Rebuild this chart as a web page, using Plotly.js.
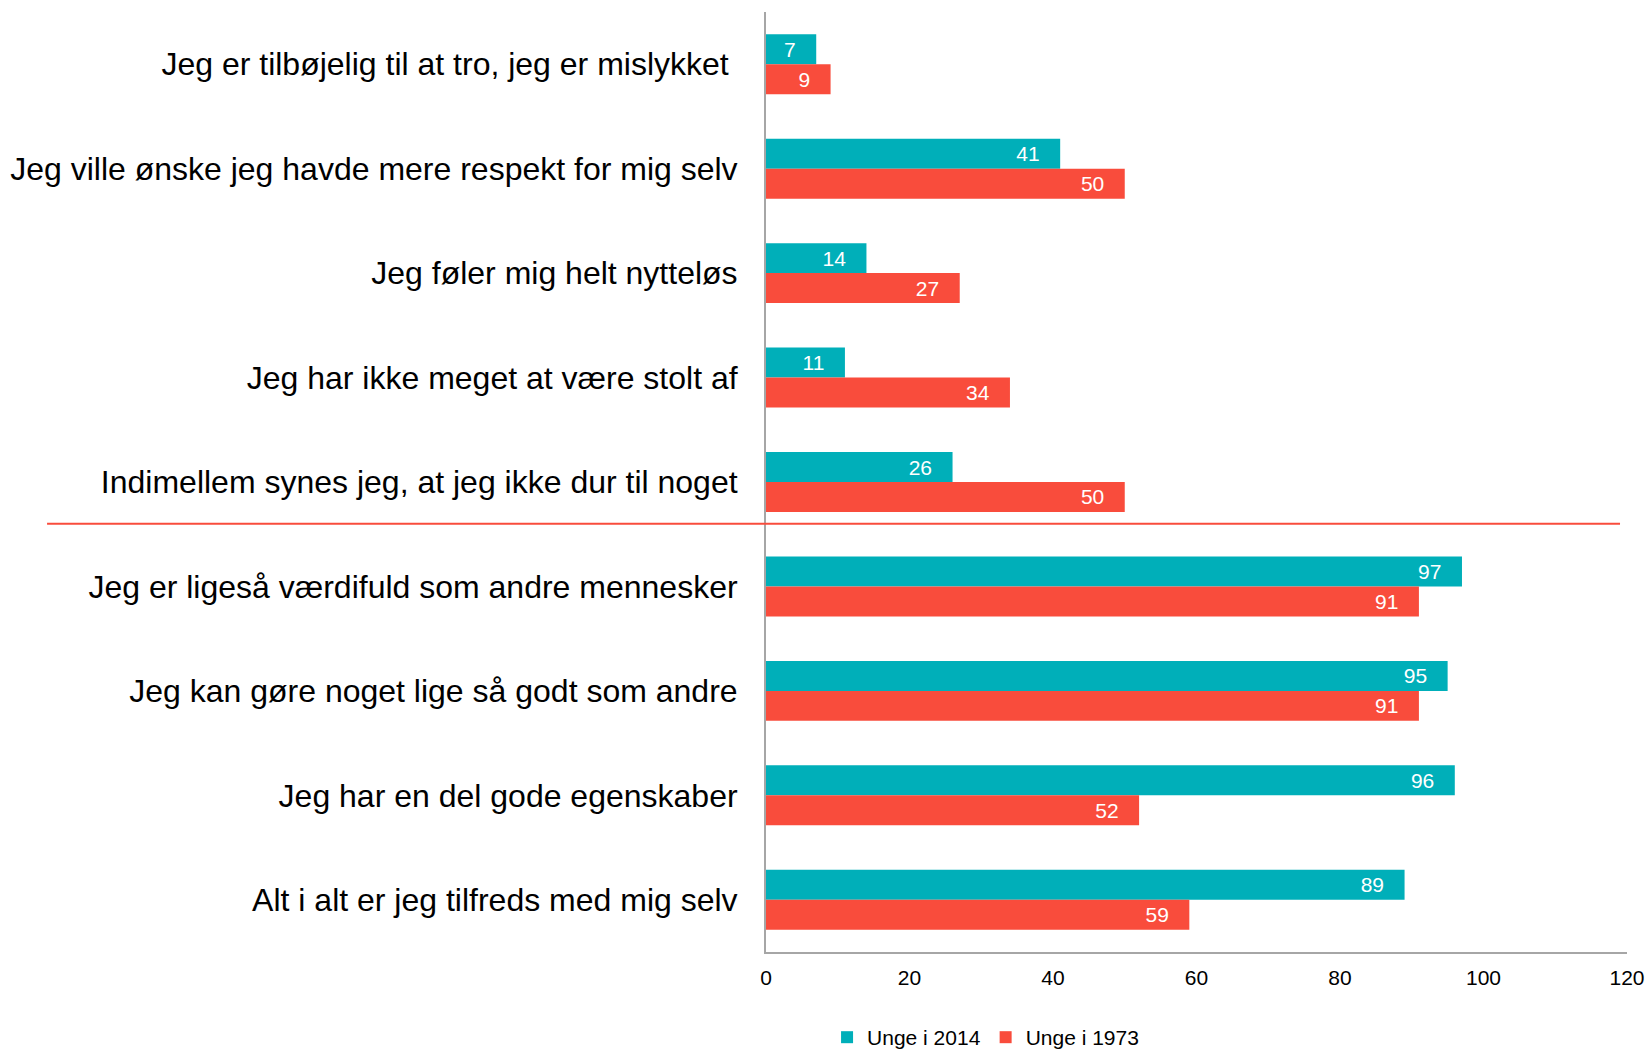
<!DOCTYPE html>
<html>
<head>
<meta charset="utf-8">
<script src="https://cdn.plot.ly/plotly-3.0.1.min.js"></script>
<style>html,body{margin:0;padding:0;background:#fff;}#chart{width:1648px;height:1049px;}</style>
</head>
<body>
<div id="chart"></div>
<script>
const categories = [
  "Jeg er tilbøjelig til at tro, jeg er mislykket\u00a0",
  "Jeg ville ønske jeg havde mere respekt for mig selv",
  "Jeg føler mig helt nytteløs",
  "Jeg har ikke meget at være stolt af",
  "Indimellem synes jeg, at jeg ikke dur til noget",
  "Jeg er ligeså værdifuld som andre mennesker",
  "Jeg kan gøre noget lige så godt som andre",
  "Jeg har en del gode egenskaber",
  "Alt i alt er jeg tilfreds med mig selv"
];
const unge2014 = [7, 41, 14, 11, 26, 97, 95, 96, 89];
const unge1973 = [9, 50, 27, 34, 50, 91, 91, 52, 59];
const seriesNames = ["Unge i 2014", "Unge i 1973"];
const xTicks = [0, 20, 40, 60, 80, 100, 120];

const FONT = '"Liberation Sans", Arial, sans-serif';
const TEAL = '#00AFB9';
const RED = '#F94C3C';

function barTrace(name, values, color) {
  return {
    type: 'bar',
    orientation: 'h',
    name: name,
    y: categories,
    x: values,
    marker: {color: color},
    text: values.map(v => String(v)),
    texttemplate: '%{text}\u00a0\u00a0\u00a0',
    textposition: 'inside',
    insidetextanchor: 'end',
    constraintext: 'none',
    textfont: {color: '#ffffff', size: 21, family: FONT},
    hoverinfo: 'x+y'
  };
}

const data = [
  barTrace(seriesNames[0], unge2014, TEAL),
  barTrace(seriesNames[1], unge1973, RED)
];

const layout = {
  width: 1648,
  height: 1049,
  margin: {l: 766, r: 21, t: 12, b: 97, pad: 0, autoexpand: false},
  paper_bgcolor: '#ffffff',
  plot_bgcolor: '#ffffff',
  font: {family: FONT, color: '#000000'},
  barmode: 'group',
  bargap: 0.426,
  bargroupgap: 0,
  showlegend: true,
  legend: {
    orientation: 'h',
    x: 0.255, xanchor: 'center',
    y: -0.091, yanchor: 'middle',
    font: {size: 21, family: FONT, color: '#000'},
    traceorder: 'normal',
    itemwidth: 30
  },
  xaxis: {
    range: [0, 120],
    tickvals: xTicks,
    ticktext: xTicks.map(String),
    showgrid: false,
    zeroline: false,
    showline: true,
    linecolor: '#A6A6A6',
    linewidth: 2,
    ticks: 'outside',
    ticklen: 6,
    tickcolor: 'rgba(0,0,0,0)',
    tickfont: {size: 21, family: FONT, color: '#000'},
    fixedrange: true
  },
  yaxis: {
    type: 'category',
    autorange: 'reversed',
    showgrid: false,
    zeroline: false,
    showline: true,
    linecolor: '#A6A6A6',
    linewidth: 2,
    ticks: '',
    ticklabelstandoff: 20,
    tickfont: {size: 32, family: FONT, color: '#000'},
    fixedrange: true
  },
  shapes: [{
    type: 'line',
    xref: 'paper', yref: 'y',
    x0: -0.835, x1: 0.9919,
    y0: 4.4, y1: 4.4,
    line: {color: RED, width: 2}
  }]
};

Plotly.newPlot('chart', data, layout, {displayModeBar: false, staticPlot: true});
</script>
</body>
</html>
